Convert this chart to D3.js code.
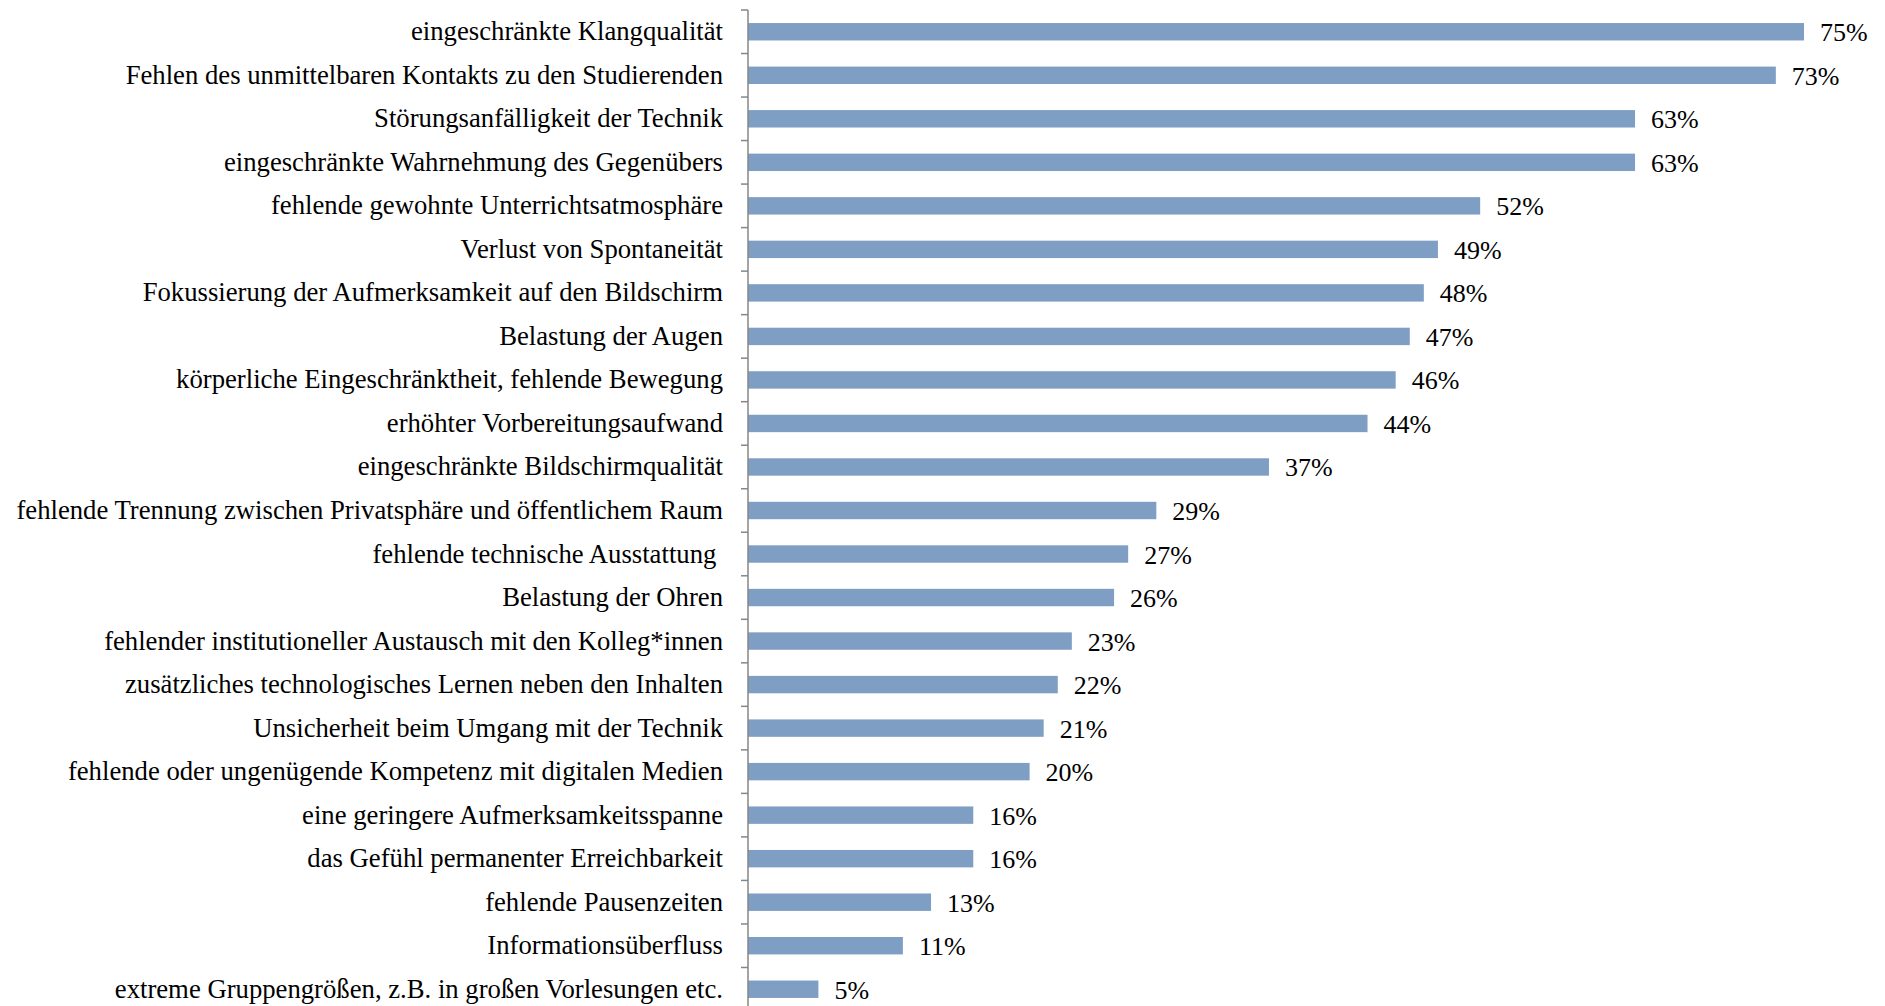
<!DOCTYPE html>
<html lang="de">

<head>
  <meta charset="UTF-8">
  <title>Nachteile Online-Lehre</title>
  <script src="https://cdn.jsdelivr.net/npm/d3@7"></script>
  <style type="text/css">
    body {
      margin: 0;
      background: #fff;
    }

    text {
      font-family: "Liberation Serif", "Times New Roman", serif;
      fill: #000;
    }
  </style>
</head>

<body>
  <script type="text/javascript">
    // Daten (von oben nach unten)
    var categories = [
      'eingeschränkte Klangqualität',
      'Fehlen des unmittelbaren Kontakts zu den Studierenden',
      'Störungsanfälligkeit der Technik',
      'eingeschränkte Wahrnehmung des Gegenübers',
      'fehlende gewohnte Unterrichtsatmosphäre',
      'Verlust von Spontaneität',
      'Fokussierung der Aufmerksamkeit auf den Bildschirm',
      'Belastung der Augen',
      'körperliche Eingeschränktheit, fehlende Bewegung',
      'erhöhter Vorbereitungsaufwand',
      'eingeschränkte Bildschirmqualität',
      'fehlende Trennung zwischen Privatsphäre und öffentlichem Raum',
      'fehlende technische Ausstattung ',
      'Belastung der Ohren',
      'fehlender institutioneller Austausch mit den Kolleg*innen',
      'zusätzliches technologisches Lernen neben den Inhalten',
      'Unsicherheit beim Umgang mit der Technik',
      'fehlende oder ungenügende Kompetenz mit digitalen Medien',
      'eine geringere Aufmerksamkeitsspanne',
      'das Gefühl permanenter Erreichbarkeit',
      'fehlende Pausenzeiten',
      'Informationsüberfluss',
      'extreme Gruppengrößen, z.B. in großen Vorlesungen etc.'
    ]
    var values = [75, 73, 63, 63, 52, 49, 48, 47, 46, 44, 37, 29, 27, 26, 23, 22, 21, 20, 16, 16, 13, 11, 5]
    var valueLabels = ['75%', '73%', '63%', '63%', '52%', '49%', '48%', '47%', '46%', '44%', '37%', '29%', '27%',
      '26%', '23%', '22%', '21%', '20%', '16%', '16%', '13%', '11%', '5%']

    var w = 1885
    var h = 1006
    var axisX = 748

    var xScale = d3.scaleLinear().domain([0, 100]).range([axisX, axisX + 1408])
    var yScale = d3.scaleBand().domain(categories).range([10, 1011])
      .paddingInner(0.6).paddingOuter(0.3)
    var step = yScale.step()

    var svg = d3.select('body').append('svg').attr('width', w).attr('height', h)

    // Balken
    svg.selectAll('rect.bar').data(values).enter().append('rect')
      .attr('class', 'bar')
      .attr('x', xScale(0))
      .attr('y', function (d, i) { return yScale(categories[i]) })
      .attr('width', function (d) { return xScale(d) - xScale(0) })
      .attr('height', yScale.bandwidth())
      .attr('fill', '#7f9ec3')

    // Achse mit Teilstrichen zwischen den Kategorien
    var tickYs = categories.map(function (c) { return yScale(c) - step * 0.3 })
    tickYs.push(yScale.range()[1])
    svg.append('line')
      .attr('x1', axisX).attr('x2', axisX)
      .attr('y1', tickYs[0]).attr('y2', h)
      .attr('stroke', '#868686').attr('stroke-width', 1.5)
    svg.selectAll('line.tick').data(tickYs).enter().append('line')
      .attr('class', 'tick')
      .attr('x1', axisX - 7).attr('x2', axisX)
      .attr('y1', function (d) { return d }).attr('y2', function (d) { return d })
      .attr('stroke', '#868686').attr('stroke-width', 1.5)

    // Kategorienbeschriftung
    svg.selectAll('text.cat').data(categories).enter().append('text')
      .attr('class', 'cat')
      .attr('x', axisX - 25)
      .attr('y', function (d) { return yScale(d) + yScale.bandwidth() / 2 + 8.5 })
      .attr('text-anchor', 'end')
      .attr('font-size', '26.7px')
      .style('white-space', 'pre')
      .text(function (d) { return d })

    // Werte
    svg.selectAll('text.val').data(values).enter().append('text')
      .attr('class', 'val')
      .attr('x', function (d) { return xScale(d) + 16 })
      .attr('y', function (d, i) { return yScale(categories[i]) + yScale.bandwidth() / 2 + 9.5 })
      .attr('font-size', '26px')
      .text(function (d, i) { return valueLabels[i] })
  </script>
</body>

</html>
